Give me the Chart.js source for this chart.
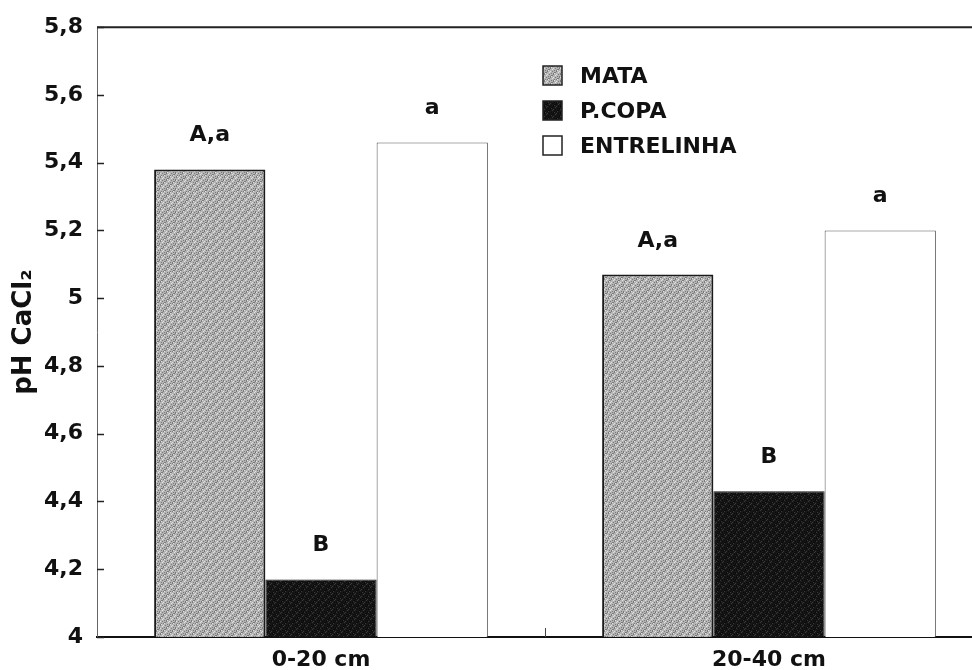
<!DOCTYPE html>
<html>
<head>
<meta charset="utf-8">
<script src="https://cdn.jsdelivr.net/npm/chart.js@4"></script>
<style>
  html, body { margin: 0; padding: 0; background: #fff; overflow: hidden; }
  #wrap { width: 1000px; height: 670px; }
</style>
</head>
<body>
<div id="wrap"><canvas id="phChart"></canvas></div>
<script>

const depths = ['0-20 cm', '20-40 cm'];

const mata = [5.38, 5.07];
const pcopa = [4.17, 4.43];
const entrelinha = [5.46, 5.20];

const mataLetters = ['A,a', 'A,a'];
const pcopaLetters = ['B', 'B'];
const entreLetters = ['a', 'a'];

const yTicks = [4, 4.2, 4.4, 4.6, 4.8, 5, 5.2, 5.4, 5.6, 5.8];

const FONT = "'DejaVu Sans', sans-serif";

// stippled grey fill like the scanned figure
function stipple(base, dark, light) {
  const c = document.createElement('canvas');
  c.width = 16; c.height = 16;
  const g = c.getContext('2d');
  g.fillStyle = base;
  g.fillRect(0, 0, 16, 16);
  for (let y = 0; y < 16; y++) {
    for (let x = 0; x < 16; x++) {
      const h = (x * 7 + y * 13 + x * y * 3) % 9;
      if (h === 0 || h === 4) { g.fillStyle = dark; g.fillRect(x, y, 1, 1); }
      else if (h === 7) { g.fillStyle = light; g.fillRect(x, y, 1, 1); }
    }
  }
  return g.createPattern(c, 'repeat');
}

const mataFill = stipple('#b4b4b4', '#7a7a7a', '#e2e2e2');
const copaFill = stipple('#161616', '#0a0a0a', '#3a3a3a');

const letters = [mataLetters, pcopaLetters, entreLetters];

const barLabels = {
  id: 'barLabels',
  afterDatasetsDraw(chart) {
    const ctx = chart.ctx;
    ctx.save();
    ctx.font = 'bold 22px ' + FONT;
    ctx.fillStyle = '#111';
    ctx.textAlign = 'center';
    ctx.textBaseline = 'alphabetic';
    chart.data.datasets.forEach((ds, i) => {
      chart.getDatasetMeta(i).data.forEach((bar, j) => {
        ctx.fillText(letters[i][j], bar.x, bar.y - 28);
      });
    });
    ctx.restore();
  }
};

const frame = {
  id: 'frame',
  afterDraw(chart) {
    const ctx = chart.ctx;
    const a = chart.chartArea;
    const y = chart.scales.y;
    const x = chart.scales.x;
    ctx.save();
    // top line
    ctx.strokeStyle = '#222';
    ctx.lineWidth = 2;
    ctx.beginPath();
    ctx.moveTo(a.left, a.top);
    ctx.lineTo(a.right, a.top);
    ctx.stroke();
    // inward ticks
    ctx.lineWidth = 1.5;
    yTicks.forEach(v => {
      const py = Math.round(y.getPixelForValue(v)) + 0.5;
      ctx.beginPath();
      ctx.moveTo(a.left, py);
      ctx.lineTo(a.left + 7, py);
      ctx.stroke();
    });
    // small tick between the two depths
    const mid = Math.round((x.getPixelForValue(0) + x.getPixelForValue(1)) / 2) + 0.5;
    ctx.lineWidth = 1;
    ctx.strokeStyle = '#444';
    ctx.beginPath();
    ctx.moveTo(mid, a.bottom);
    ctx.lineTo(mid, a.bottom - 9);
    ctx.stroke();
    ctx.restore();
  }
};

const legendBox = {
  id: 'legendBox',
  afterDraw(chart) {
    const ctx = chart.ctx;
    ctx.save();
    ctx.font = 'bold 22px ' + FONT;
    ctx.textBaseline = 'middle';
    chart.data.datasets.forEach((ds, i) => {
      const cy = 76 + i * 35;
      ctx.fillStyle = ds.backgroundColor;
      ctx.fillRect(543, cy - 10, 19, 19);
      ctx.strokeStyle = '#222';
      ctx.lineWidth = 1.5;
      ctx.strokeRect(543, cy - 10, 19, 19);
      ctx.fillStyle = '#111';
      ctx.fillText(ds.label, 580, cy + 1);
    });
    ctx.restore();
  }
};

const data = {
  labels: depths,
  datasets: [{
    label: 'MATA',
    data: mata,
    backgroundColor: mataFill,
    borderColor: '#1a1a1a',
    borderWidth: 2
  }, {
    label: 'P.COPA',
    data: pcopa,
    backgroundColor: copaFill,
    borderColor: '#111',
    borderWidth: 1
  }, {
    label: 'ENTRELINHA',
    data: entrelinha,
    backgroundColor: '#ffffff',
    borderColor: '#555',
    borderWidth: 1
  }]
};

const config = {
  type: 'bar',
  data: data,
  options: {
    responsive: true,
    maintainAspectRatio: false,
    animation: false,
    datasets: {
      bar: { barPercentage: 1, categoryPercentage: 0.745 }
    },
    layout: {
      padding: { top: 24, bottom: 0, left: 0, right: 7 }
    },
    plugins: {
      legend: { display: false },
      tooltip: { enabled: false }
    },
    scales: {
      x: {
        grid: { display: false },
        border: { color: '#111', width: 2 },
        ticks: {
          color: '#111',
          padding: 2,
          font: { family: FONT, size: 22, weight: 'bold' }
        },
        afterFit(scale) { scale.height = 33; }
      },
      y: {
        min: 4,
        max: 5.8,
        afterBuildTicks(scale) { scale.ticks = yTicks.map(v => ({ value: v })); },
        grid: { drawOnChartArea: false, drawTicks: false },
        border: { color: '#666', width: 1, dash: [1, 3] },
        ticks: {
          color: '#111',
          padding: 14,
          font: { family: FONT, size: 22, weight: 'bold' },
          callback: v => String(v).replace('.', ',')
        },
        title: {
          display: true,
          text: 'pH CaCl₂',
          color: '#111',
          padding: { top: 9, bottom: 0 },
          font: { family: FONT, size: 26, weight: 'bold' }
        },
        afterFit(scale) { scale.width = 97; }
      }
    }
  },
  plugins: [barLabels, frame, legendBox]
};

const phChart = new Chart(document.getElementById('phChart'), config);
</script>
</body>
</html>
